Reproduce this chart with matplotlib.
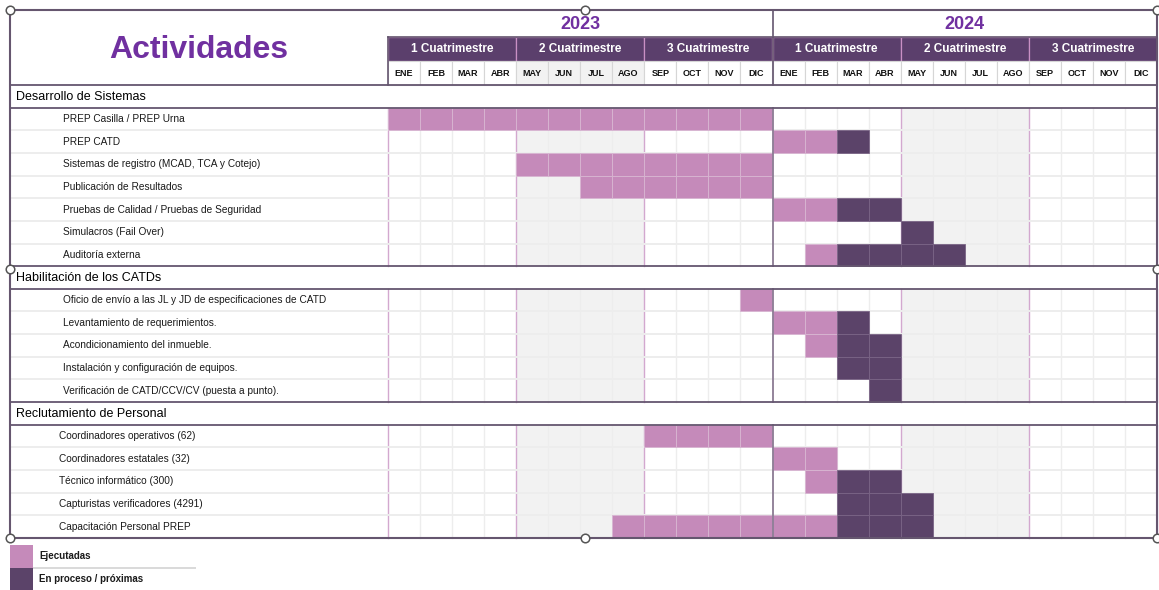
#!/usr/bin/env python3
"""Cronograma PREP 2023-2024 como tabla tipo Gantt."""

import matplotlib

matplotlib.use("Agg")
import matplotlib.pyplot as plt
from matplotlib.patches import Rectangle

plt.rcParams["font.family"] = ["Liberation Sans", "DejaVu Sans"]

# ---- datos ----
anios = ["2023", "2024"]
cuatrimestres = ["1 Cuatrimestre", "2 Cuatrimestre", "3 Cuatrimestre"]
meses = ["ENE", "FEB", "MAR", "ABR", "MAY", "JUN", "JUL", "AGO", "SEP", "OCT", "NOV", "DIC"]

secciones = ["Desarrollo de Sistemas", "Habilitación de los CATDs", "Reclutamiento de Personal"]

actividades_desarrollo = [
    "PREP Casilla / PREP Urna",
    "PREP CATD",
    "Sistemas de registro (MCAD, TCA y Cotejo)",
    "Publicación de Resultados",
    "Pruebas de Calidad / Pruebas de Seguridad",
    "Simulacros (Fail Over)",
    "Auditoría externa",
]
actividades_habilitacion = [
    "Oficio de envío a las JL y JD de especificaciones de CATD",
    "Levantamiento de requerimientos.",
    "Acondicionamiento del inmueble.",
    "Instalación y configuración de equipos.",
    "Verificación de CATD/CCV/CV (puesta a punto).",
]
actividades_reclutamiento = [
    "Coordinadores operativos (62)",
    "Coordinadores estatales (32)",
    "Técnico informático (300)",
    "Capturistas verificadores (4291)",
    "Capacitación Personal PREP",
]

# meses indexados 0 = ENE 2023 ... 23 = DIC 2024; (primero, ultimo) o None
ejecutadas_desarrollo = [(0, 11), (12, 13), (4, 11), (6, 11), (12, 13), None, (13, 13)]
proceso_desarrollo = [None, (14, 14), None, None, (14, 15), (16, 16), (14, 17)]
ejecutadas_habilitacion = [(11, 11), (12, 13), (13, 13), None, None]
proceso_habilitacion = [None, (14, 14), (14, 15), (14, 15), (15, 15)]
ejecutadas_reclutamiento = [(8, 11), (12, 13), (13, 13), None, (7, 13)]
proceso_reclutamiento = [None, None, (14, 15), (14, 16), (14, 16)]

leyenda = ["Ejecutadas", "En proceso / próximas"]

# ---- estilo / geometria (pixeles) ----
C_EJEC = "#c58aba"
C_PROC = "#5b4369"
C_HEAD = "#5b3f6c"
C_PURPLE = "#7030a0"
C_FRAME = "#65566f"
C_PINK = "#d3a8cf"
C_GRID = "#ededed"
C_GRAY = "#f2f2f2"

LEFT, RIGHT, TOP = 10, 1157, 10
X0 = 388
MW = (RIGHT - X0) / 24
HEAD_H = [27, 24, 24]
ROW_H = 22.65

fig = plt.figure(figsize=(11.59, 5.90), dpi=100)
ax = fig.add_axes([0, 0, 1, 1])
ax.set_xlim(0, 1159)
ax.set_ylim(590, 0)
ax.axis("off")


def rect(x, y, w, h, fc, ec="none", lw=0, z=1):
    ax.add_patch(Rectangle((x, y), w, h, facecolor=fc, edgecolor=ec, linewidth=lw, zorder=z))


def mx(m):
    return X0 + m * MW


# ---- cabecera ----
y_year = TOP
y_cuat = y_year + HEAD_H[0]
y_mes = y_cuat + HEAD_H[1]
y_body = y_mes + HEAD_H[2]

ax.text((LEFT + X0) / 2, (TOP + y_body) / 2 + 2, "Actividades", color=C_PURPLE,
        fontsize=23, fontweight="bold", ha="center", va="center")

for i, anio in enumerate(anios):
    xa = mx(12 * i)
    ax.text(xa + 6 * MW, y_year + HEAD_H[0] / 2 + 1, anio, color=C_PURPLE,
            fontsize=13, fontweight="bold", ha="center", va="center")
    for j, c in enumerate(cuatrimestres):
        xc = mx(12 * i + 4 * j)
        rect(xc, y_cuat, 4 * MW, HEAD_H[1], C_HEAD, "#c990c4", 0.9, z=2)
        ax.text(xc + 2 * MW, y_cuat + HEAD_H[1] / 2, c, color="white",
                fontsize=8.5, fontweight="bold", ha="center", va="center", zorder=3)
    for k, mes in enumerate(meses):
        xm = mx(12 * i + k)
        fc = C_GRAY if (i == 0 and 4 <= k <= 7) else "white"
        rect(xm, y_mes, MW, HEAD_H[2], fc, "#d6d6d6", 0.8, z=2)
        ax.text(xm + MW / 2, y_mes + HEAD_H[2] / 2, mes, color="#111111",
                fontsize=6.5, fontweight="bold", ha="center", va="center", zorder=3)

ax.plot([X0, RIGHT], [y_cuat, y_cuat], color=C_FRAME, lw=1.2, zorder=4)
ax.plot([X0, X0], [y_cuat, y_body], color=C_FRAME, lw=1.2, zorder=4)
ax.plot([mx(12), mx(12)], [TOP, y_body], color=C_FRAME, lw=1.2, zorder=4)

# ---- cuerpo ----
grupos = [
    (actividades_desarrollo, ejecutadas_desarrollo, proceso_desarrollo, 63),
    (actividades_habilitacion, ejecutadas_habilitacion, proceso_habilitacion, 63),
    (actividades_reclutamiento, ejecutadas_reclutamiento, proceso_reclutamiento, 59),
]

y = y_body
seccion_y = []
for seccion, (acts, ejec, proc, indent) in zip(secciones, grupos):
    # fila de seccion
    seccion_y.append(y)
    ax.text(LEFT + 6, y + ROW_H / 2 + 0.5, seccion, fontsize=9, color="#000000",
            ha="left", va="center", zorder=5)
    ax.plot([LEFT, RIGHT], [y, y], color=C_FRAME, lw=1.3, zorder=6)
    y += ROW_H
    ax.plot([LEFT, RIGHT], [y, y], color=C_FRAME, lw=1.3, zorder=6)
    y_start = y
    n = len(acts)
    y_end = y_start + n * ROW_H

    # sombreado 2o cuatrimestre
    for i in range(2):
        rect(mx(12 * i + 4), y_start, 4 * MW, n * ROW_H, C_GRAY, z=1)

    # rejilla
    for m in range(25):
        if m % 12 == 0 and m not in (0, 24):
            continue
        col = C_PINK if m % 4 == 0 else C_GRID
        ax.plot([mx(m), mx(m)], [y_start, y_end], color=col, lw=1.0, zorder=2)
    for r in range(1, n):
        yy = y_start + r * ROW_H
        ax.plot([LEFT, RIGHT], [yy, yy], color=C_GRID, lw=1.4, zorder=2)

    for r, (nombre, e, p) in enumerate(zip(acts, ejec, proc)):
        yr = y_start + r * ROW_H
        ax.text(indent, yr + ROW_H / 2, nombre, fontsize=7.3, color="#1a1a1a",
                ha="left", va="center", zorder=5)
        for rng, col in ((e, C_EJEC), (p, C_PROC)):
            if rng is None:
                continue
            for m in range(rng[0], rng[1] + 1):
                rect(mx(m), yr, MW, ROW_H, col, "#d8b6d2" if col == C_EJEC else "#7a6486",
                     0.6, z=3)

    ax.plot([mx(12), mx(12)], [y_start, y_end], color="#8b7b93", lw=1.3, zorder=4)
    y = y_end

# marco exterior
rect(LEFT, TOP, RIGHT - LEFT, y - TOP, "none", C_FRAME, 1.5, z=7)

# asas de seleccion
xmid = (LEFT + RIGHT) / 2 + 1.5
ymid = seccion_y[1] + 3
for hx, hy in [(LEFT, TOP), (xmid, TOP), (RIGHT, TOP),
               (LEFT, ymid), (RIGHT, ymid),
               (LEFT, y), (xmid, y), (RIGHT, y)]:
    ax.scatter([hx], [hy], s=38, facecolor="white", edgecolor="#555555",
               linewidth=1.1, zorder=8)

# ---- leyenda ----
ly = y + 7
LH = 22.5
for i, (etq, col) in enumerate(zip(leyenda, [C_EJEC, C_PROC])):
    rect(LEFT, ly + i * LH, 23, LH, col, z=3)
    ax.text(LEFT + 29, ly + i * LH + LH / 2, etq, fontsize=7, fontweight="bold",
            color="#1a1a1a", ha="left", va="center")
ax.plot([LEFT + 23, 195], [ly + LH, ly + LH], color="#d9d9d9", lw=1.4)

fig.savefig("out.png", dpi=100)
